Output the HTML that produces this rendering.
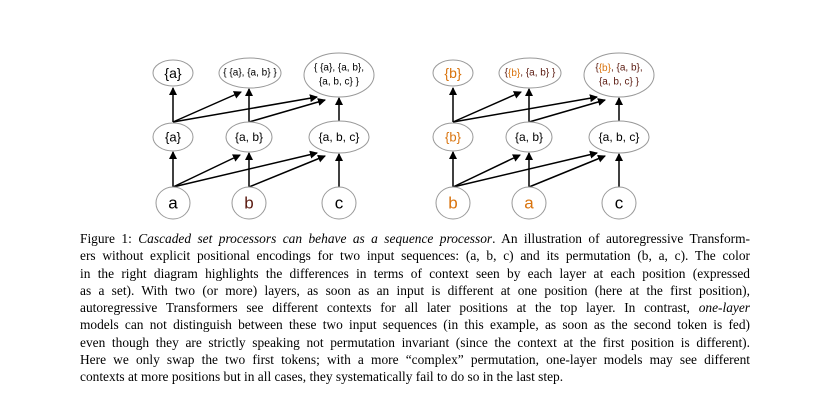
<!DOCTYPE html>
<html><head><meta charset="utf-8"><style>
body{margin:0;background:#fff;width:831px;height:408px;overflow:hidden;position:relative}
svg{position:absolute;left:0;top:0}
svg text{font-family:"Liberation Sans",sans-serif;text-anchor:middle;dominant-baseline:central}
#cap{position:absolute;left:80px;top:230px;width:670px;font-family:"Liberation Serif",serif;font-size:13.4px;line-height:17.25px;color:#000}
#cap div{text-align:justify;text-align-last:justify;white-space:nowrap}
#cap div.last{text-align-last:left}
</style></head><body>
<svg width="831" height="230">
<defs><marker id="ah" markerWidth="8" markerHeight="8" refX="7" refY="4" orient="auto" markerUnits="userSpaceOnUse"><path d="M0,0 L8,4 L0,8 z" fill="#000"/></marker></defs>
<g id="left">
<g stroke="#000" stroke-width="1.5" marker-end="url(#ah)" fill="none">
<line x1="173" y1="187" x2="173" y2="152"/>
<line x1="173" y1="187" x2="240" y2="155"/>
<line x1="173" y1="187" x2="317" y2="153"/>
<line x1="249" y1="187" x2="249" y2="153"/>
<line x1="249" y1="187" x2="325" y2="156"/>
<line x1="339" y1="187" x2="339" y2="154"/>
<line x1="173" y1="122" x2="173" y2="88"/>
<line x1="173" y1="122" x2="241" y2="92"/>
<line x1="173" y1="122" x2="317" y2="97"/>
<line x1="249" y1="122" x2="249" y2="89"/>
<line x1="249" y1="122" x2="325" y2="100"/>
<line x1="339" y1="122" x2="339" y2="98"/>
</g>
<g fill="#fff" stroke="#999" stroke-width="1">
<ellipse cx="173" cy="73" rx="20" ry="13"/><ellipse cx="250" cy="73" rx="31" ry="15"/><ellipse cx="339" cy="75" rx="35" ry="22"/>
<ellipse cx="173" cy="137" rx="20" ry="14"/><ellipse cx="249" cy="137" rx="23" ry="15"/><ellipse cx="339" cy="137" rx="30" ry="16"/>
<ellipse cx="173" cy="203" rx="17" ry="16"/><ellipse cx="249" cy="203" rx="17" ry="16"/><ellipse cx="339" cy="203" rx="17" ry="16"/>
</g>
<text x="173" y="73" font-size="14">{a}</text>
<text x="250" y="73" font-size="10">{ {a}, {a, b} }</text>
<text x="339" y="68" font-size="10">{ {a}, {a, b},</text><text x="339" y="82" font-size="10">{a, b, c} }</text>
<text x="173" y="137" font-size="13">{a}</text><text x="249" y="137" font-size="12">{a, b}</text><text x="339" y="137" font-size="12">{a, b, c}</text>
<text x="173" y="203" font-size="17">a</text><text x="249" y="203" font-size="17" fill="#5a1a10">b</text><text x="339" y="203" font-size="17">c</text>
</g>
<g id="right" transform="translate(280,0)">
<g stroke="#000" stroke-width="1.5" marker-end="url(#ah)" fill="none">
<line x1="173" y1="187" x2="173" y2="152"/>
<line x1="173" y1="187" x2="240" y2="155"/>
<line x1="173" y1="187" x2="317" y2="153"/>
<line x1="249" y1="187" x2="249" y2="153"/>
<line x1="249" y1="187" x2="325" y2="156"/>
<line x1="339" y1="187" x2="339" y2="154"/>
<line x1="173" y1="122" x2="173" y2="88"/>
<line x1="173" y1="122" x2="241" y2="92"/>
<line x1="173" y1="122" x2="317" y2="97"/>
<line x1="249" y1="122" x2="249" y2="89"/>
<line x1="249" y1="122" x2="325" y2="100"/>
<line x1="339" y1="122" x2="339" y2="98"/>
</g>
<g fill="#fff" stroke="#999" stroke-width="1">
<ellipse cx="173" cy="73" rx="20" ry="13"/><ellipse cx="250" cy="73" rx="31" ry="15"/><ellipse cx="339" cy="75" rx="35" ry="22"/>
<ellipse cx="173" cy="137" rx="20" ry="14"/><ellipse cx="249" cy="137" rx="23" ry="15"/><ellipse cx="339" cy="137" rx="30" ry="16"/>
<ellipse cx="173" cy="203" rx="17" ry="16"/><ellipse cx="249" cy="203" rx="17" ry="16"/><ellipse cx="339" cy="203" rx="17" ry="16"/>
</g>
<text x="173" y="73" font-size="14" fill="#d9730d">{b}</text>
<text x="250" y="73" font-size="10" fill="#5a1a10">{<tspan fill="#d9730d">{b}</tspan>, {a, b} }</text>
<text x="339" y="68" font-size="10" fill="#5a1a10">{<tspan fill="#d9730d">{b}</tspan>, {a, b},</text><text x="339" y="82" font-size="10" fill="#5a1a10">{a, b, c} }</text>
<text x="173" y="137" font-size="13" fill="#d9730d">{b}</text><text x="249" y="137" font-size="12">{a, b}</text><text x="339" y="137" font-size="12">{a, b, c}</text>
<text x="173" y="203" font-size="17" fill="#d9730d">b</text><text x="249" y="203" font-size="17" fill="#d9730d">a</text><text x="339" y="203" font-size="17">c</text>
</g>
</svg>
<div id="cap">
<div>Figure 1: <i>Cascaded set processors can behave as a sequence processor</i>. An illustration of autoregressive Transform-</div>
<div>ers without explicit positional encodings for two input sequences: (a, b, c) and its permutation (b, a, c). The color</div>
<div>in the right diagram highlights the differences in terms of context seen by each layer at each position (expressed</div>
<div>as a set). With two (or more) layers, as soon as an input is different at one position (here at the first position),</div>
<div>autoregressive Transformers see different contexts for all later positions at the top layer. In contrast, <i>one-layer</i></div>
<div>models can not distinguish between these two input sequences (in this example, as soon as the second token is fed)</div>
<div>even though they are strictly speaking not permutation invariant (since the context at the first position is different).</div>
<div>Here we only swap the two first tokens; with a more “complex” permutation, one-layer models may see different</div>
<div class="last">contexts at more positions but in all cases, they systematically fail to do so in the last step.</div>
</div>
</body></html>
